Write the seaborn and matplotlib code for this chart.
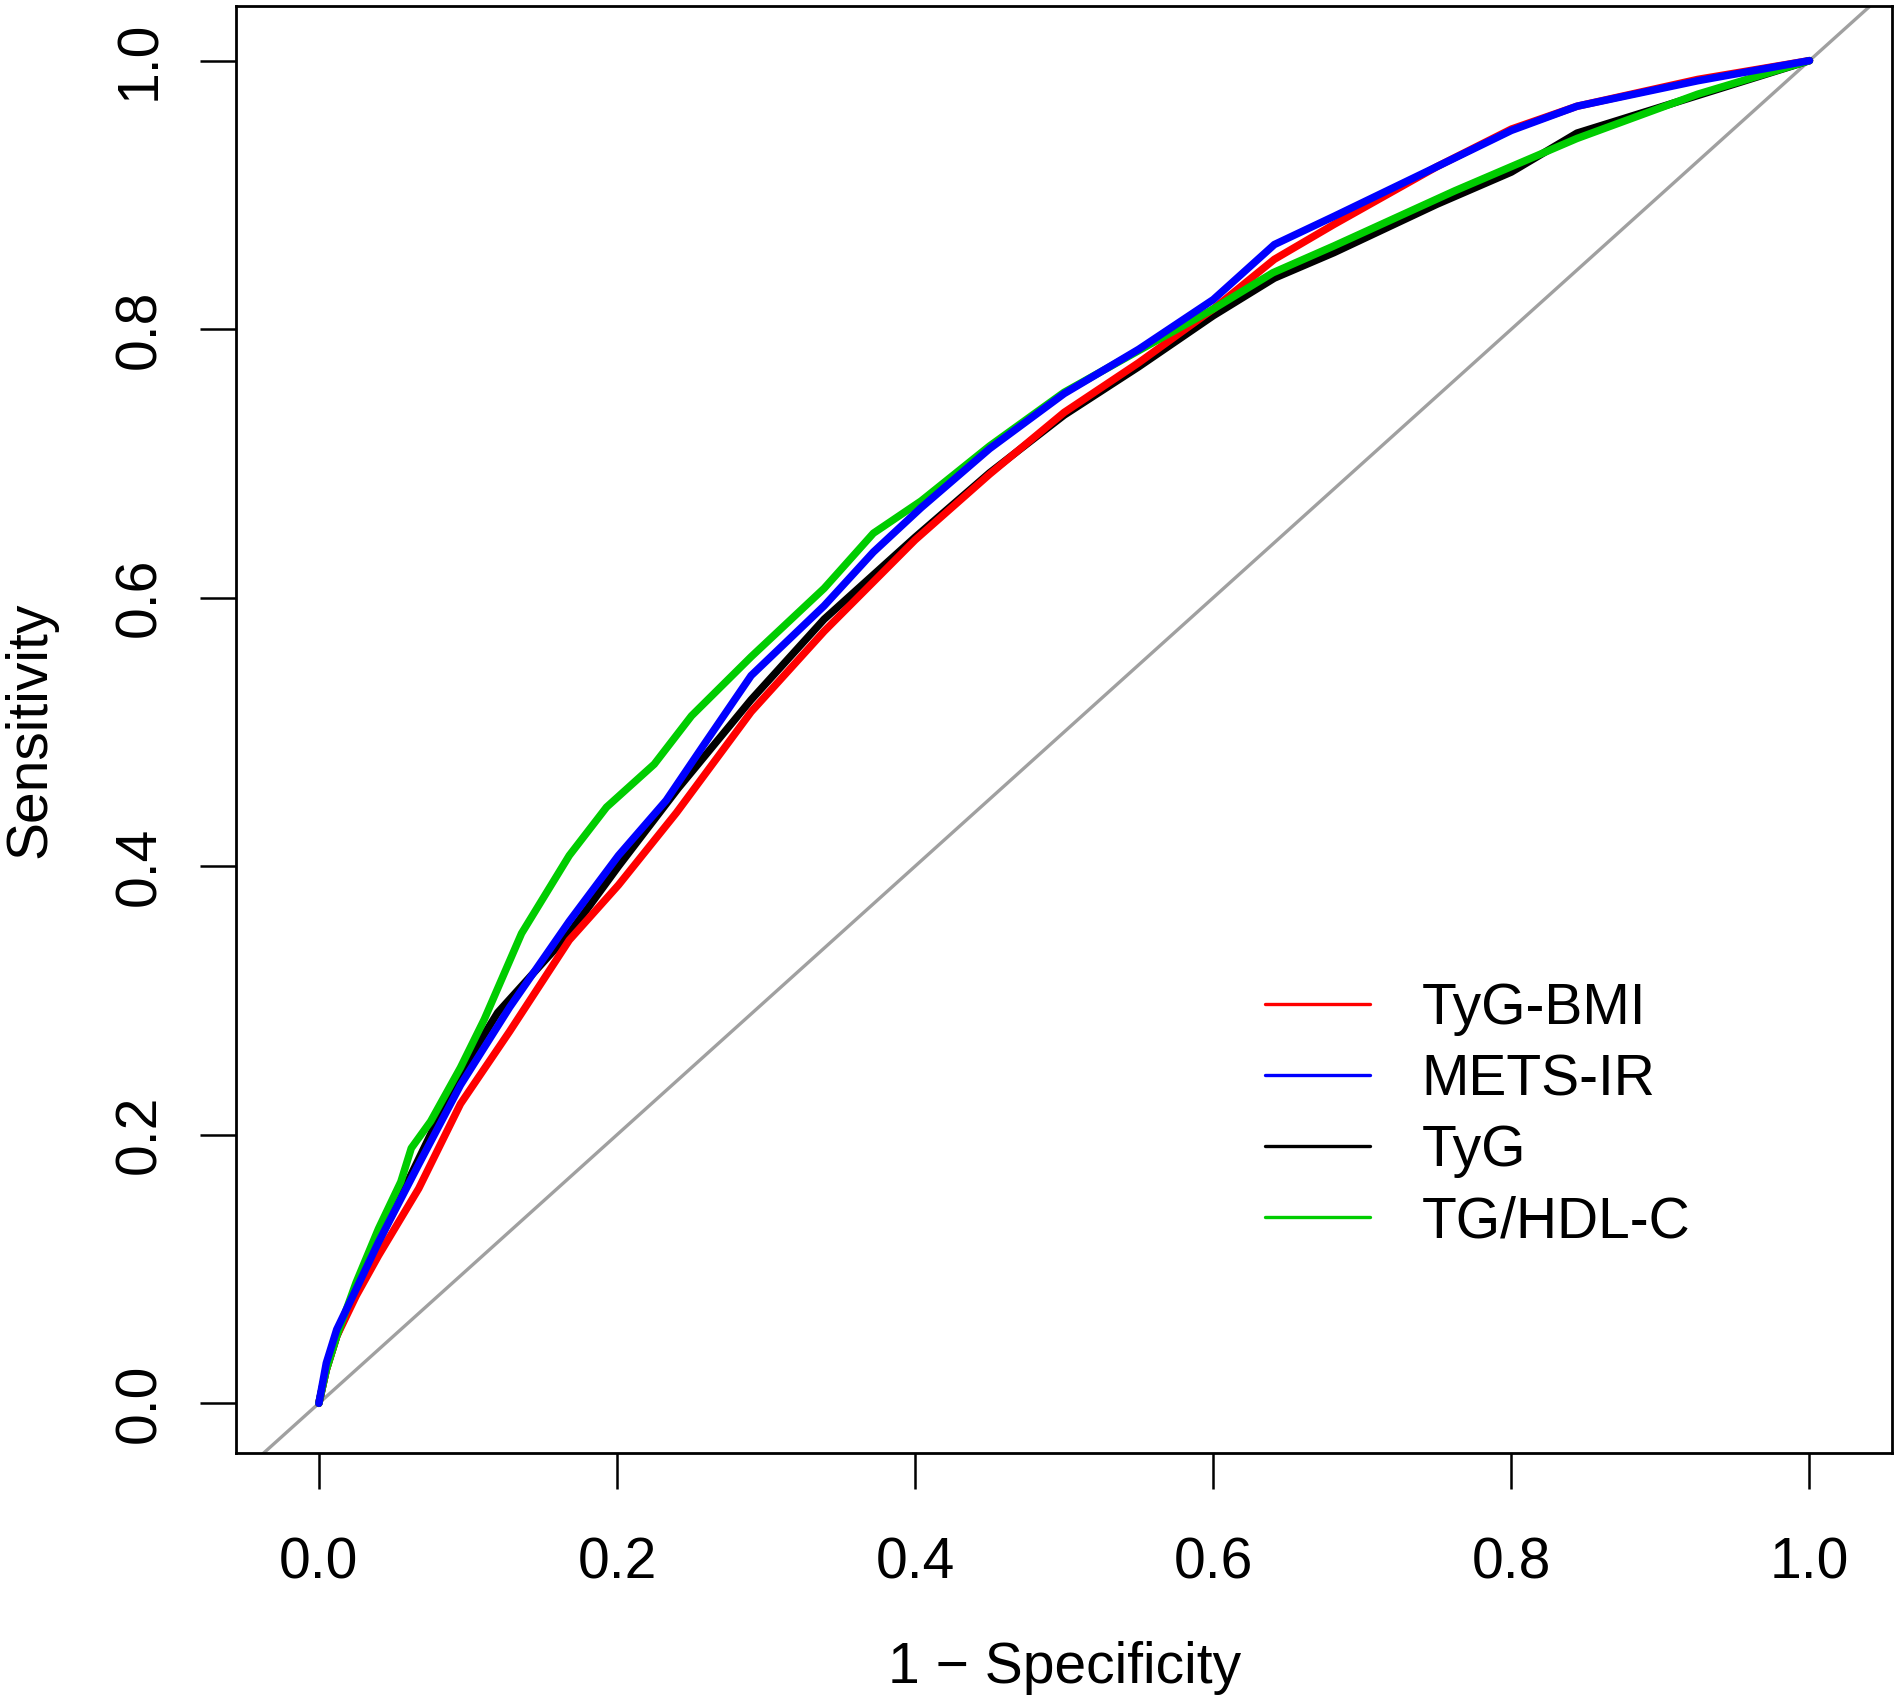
import matplotlib
matplotlib.use("Agg")
import matplotlib.pyplot as plt
from matplotlib.lines import Line2D
import seaborn as sns
import pandas as pd

# ------------------------------
# ROC curve points
# ------------------------------
labels = ["TyG-BMI", "METS-IR", "TyG", "TG/HDL-C"]
colors = ["#FF0000", "#0000FF", "#000000", "#00CD00"]

tyg_bmi_fpr = [0, 0.005, 0.012, 0.025, 0.04, 0.067, 0.095, 0.128, 0.168, 0.201, 0.24, 0.29, 0.339,
               0.4, 0.45, 0.5, 0.55, 0.6, 0.641, 0.681, 0.75, 0.8, 0.844, 0.925, 1.0]
tyg_bmi_tpr = [0, 0.025, 0.05, 0.08, 0.11, 0.16, 0.223, 0.277, 0.345, 0.386, 0.44, 0.515, 0.575,
               0.643, 0.692, 0.738, 0.775, 0.815, 0.852, 0.878, 0.921, 0.949, 0.966, 0.986, 1.0]

mets_ir_fpr = [0, 0.005, 0.012, 0.025, 0.04, 0.067, 0.095, 0.128, 0.168, 0.201, 0.233, 0.258, 0.29,
               0.339, 0.372, 0.404, 0.45, 0.5, 0.55, 0.6, 0.641, 0.681, 0.75, 0.8, 0.844, 0.925, 1.0]
mets_ir_tpr = [0, 0.03, 0.055, 0.085, 0.12, 0.178, 0.237, 0.295, 0.359, 0.408, 0.449, 0.49, 0.542,
               0.594, 0.634, 0.667, 0.711, 0.752, 0.785, 0.822, 0.863, 0.884, 0.921, 0.948, 0.966, 0.985, 1.0]

tyg_fpr = [0, 0.005, 0.012, 0.025, 0.04, 0.067, 0.095, 0.12, 0.168, 0.201, 0.241, 0.29, 0.339,
           0.4, 0.45, 0.5, 0.55, 0.6, 0.641, 0.681, 0.75, 0.8, 0.844, 0.925, 1.0]
tyg_tpr = [0, 0.025, 0.05, 0.085, 0.12, 0.182, 0.246, 0.291, 0.35, 0.4, 0.458, 0.524, 0.584,
           0.645, 0.693, 0.736, 0.772, 0.81, 0.838, 0.857, 0.893, 0.917, 0.946, 0.974, 1.0]

tg_hdl_fpr = [0, 0.005, 0.012, 0.025, 0.04, 0.055, 0.062, 0.075, 0.095, 0.111, 0.136, 0.168, 0.193,
              0.225, 0.25, 0.29, 0.339, 0.372, 0.404, 0.45, 0.5, 0.55, 0.6, 0.64, 0.681, 0.762,
              0.844, 0.925, 1.0]
tg_hdl_tpr = [0, 0.025, 0.05, 0.09, 0.13, 0.165, 0.19, 0.21, 0.25, 0.286, 0.35, 0.408, 0.444,
              0.476, 0.512, 0.556, 0.607, 0.648, 0.672, 0.713, 0.753, 0.784, 0.815, 0.842, 0.862, 0.903,
              0.942, 0.975, 1.0]

curves = {
    "TyG-BMI": (tyg_bmi_fpr, tyg_bmi_tpr),
    "METS-IR": (mets_ir_fpr, mets_ir_tpr),
    "TyG": (tyg_fpr, tyg_tpr),
    "TG/HDL-C": (tg_hdl_fpr, tg_hdl_tpr),
}
draw_order = ["TyG", "TyG-BMI", "TG/HDL-C", "METS-IR"]

frames = []
for name, (fpr, tpr) in curves.items():
    frames.append(pd.DataFrame({"fpr": fpr, "tpr": tpr, "index": name}))
df = pd.concat(frames, ignore_index=True)

# ------------------------------
# Plot
# ------------------------------
sns.set_style("white")
plt.rcParams["font.family"] = ["Liberation Sans", "DejaVu Sans"]
plt.rcParams["text.color"] = "black"
plt.rcParams["axes.labelcolor"] = "black"
plt.rcParams["xtick.color"] = "black"
plt.rcParams["ytick.color"] = "black"
palette = dict(zip(labels, colors))

fig = plt.figure(figsize=(19.02, 17.04), dpi=100)
ax = fig.add_axes([0.1243, 0.1473, 0.8704, 0.8492])

ax.set_xlim(-0.0553, 1.0553)
ax.set_ylim(-0.037, 1.0407)

# chance diagonal across the whole panel
ax.plot([-0.1, 1.1], [-0.1, 1.1], color="#A0A0A0", lw=2.4, zorder=1)

for name in draw_order:
    sns.lineplot(data=df[df["index"] == name], x="fpr", y="tpr", color=palette[name],
                 sort=False, estimator=None, lw=5.4, ax=ax, legend=False, zorder=2)

ax.set_xticks([0, 0.2, 0.4, 0.6, 0.8, 1.0])
ax.set_yticks([0, 0.2, 0.4, 0.6, 0.8, 1.0])
ax.set_xticklabels(["0.0", "0.2", "0.4", "0.6", "0.8", "1.0"])
ax.set_yticklabels(["0.0", "0.2", "0.4", "0.6", "0.8", "1.0"], rotation=90, va="center")
ax.tick_params(axis="both", direction="out", length=26, width=1.8, labelsize=41,
               bottom=True, left=True, color="black", labelcolor="black")
ax.tick_params(axis="x", pad=34)
ax.tick_params(axis="y", pad=24)
for sp in ax.spines.values():
    sp.set_color("black")
    sp.set_linewidth(2.0)

ax.set_xlabel("1 \u2212 Specificity", fontsize=41, color="black")
ax.set_ylabel("Sensitivity", fontsize=41, color="black")
ax.xaxis.set_label_coords(0.5, -0.1486)
ax.xaxis.label.set_verticalalignment("center")
ax.yaxis.set_label_coords(-0.1247, 0.5)
ax.yaxis.label.set_verticalalignment("center")

handles = [Line2D([0], [0], color=c, lw=2.4) for c in colors]
leg = ax.legend(handles, labels, loc="upper left", bbox_to_anchor=(0.6214, 0.3255), frameon=False,
                fontsize=41, handlelength=1.85, handletextpad=0.9, labelspacing=0.3,
                borderpad=0, borderaxespad=0)
for t in leg.get_texts():
    t.set_color("black")

fig.savefig("out.png", dpi=100)
